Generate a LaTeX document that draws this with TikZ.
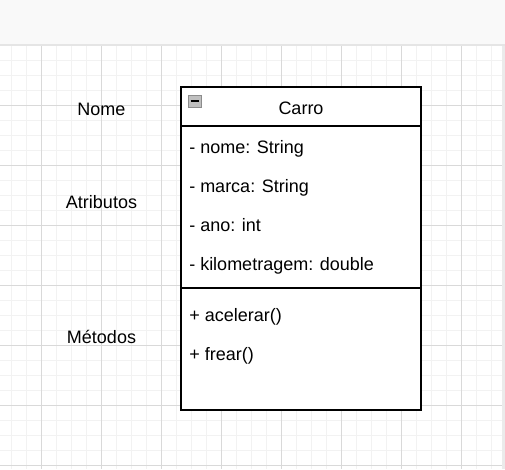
\documentclass[tikz,border=0pt]{standalone}
\usepackage{fontspec}
\setmainfont{Liberation Sans}
\begin{document}
\begin{tikzpicture}[x=0.75pt,y=-0.75pt,font=\fontsize{13.5}{16}\selectfont]
\useasboundingbox (0,0) rectangle (505,469);

% page and grid
\fill[black!2.5] (0,0) rectangle (505,46);
\fill[black!10] (0,44) rectangle (505,46);
\fill[black!8] (502,46) rectangle (505,469);
\fill[white] (0,46) rectangle (502,469);
\foreach \x in {11,26,...,491}
  \draw[black!5,line width=0.75pt] (\x,46) -- (\x,469);
\foreach \y in {60,75,...,465}
  \draw[black!5,line width=0.75pt] (0,\y) -- (502,\y);
\foreach \x in {41,101,...,461}
  \draw[black!15,line width=0.75pt] (\x,46) -- (\x,469);
\foreach \y in {105,165,...,465}
  \draw[black!15,line width=0.75pt] (0,\y) -- (502,\y);

% labels on the left
\node[anchor=base,inner sep=0pt] (nome) at (101.5,115) {Nome};
\node[anchor=base,inner sep=0pt] (atributos) at (101.5,208.5) {Atributos};
\node[anchor=base,inner sep=0pt] (metodos) at (101.5,343.5) {Métodos};

% class box
\draw[fill=white,line width=1.5pt] (181,87) rectangle (421,410);
\draw[line width=1.5pt] (181,126) -- (421,126);
\draw[line width=1.5pt] (181,288) -- (421,288);
\draw[fill=black!25,draw=black!45,line width=0.75pt] (188,95) rectangle (201,107);
\draw[line width=1.5pt] (190.5,101) -- (198.5,101);
\node[anchor=base,inner sep=0pt] (carro) at (301,114) {Carro};

\foreach \n/\y/\t in {nome/153.5/{- nome: String},marca/192.5/{- marca: String},ano/231.5/{- ano: int},km/270.5/{- kilometragem: double}}
  \node[anchor=base west,inner sep=0pt] (attr-\n) at (189,\y) {\t};
\foreach \n/\y/\t in {acelerar/321.5/{+ acelerar()},frear/360.5/{+ frear()}}
  \node[anchor=base west,inner sep=0pt] (op-\n) at (189,\y) {\t};

\end{tikzpicture}
\end{document}
